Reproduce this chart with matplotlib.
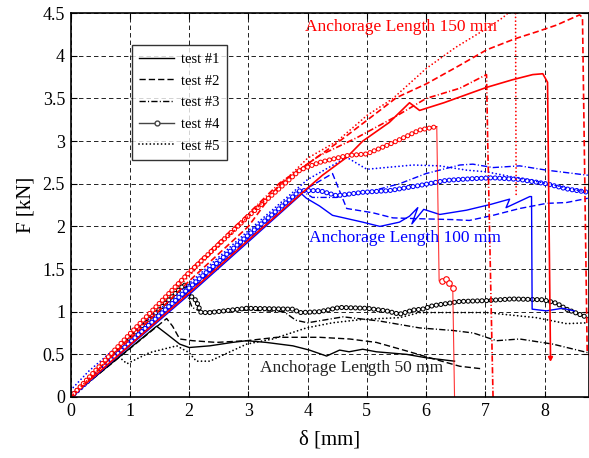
import matplotlib
matplotlib.use("Agg")
import matplotlib.pyplot as plt
from matplotlib.lines import Line2D

# ---- anchorage length 50 mm (black) ----
k1_x = [0, 1.45, 1.62, 1.84, 2.0, 2.35, 2.73, 2.97, 3.3, 3.75, 4.03, 4.32, 4.54, 4.7, 4.93, 5.16, 5.67, 6.0, 6.48]
k1_y = [0, 0.83, 0.74, 0.62, 0.58, 0.6, 0.64, 0.66, 0.64, 0.6, 0.55, 0.48, 0.55, 0.53, 0.56, 0.53, 0.5, 0.46, 0.42]
k2_x = [0, 1.62, 1.72, 1.84, 2.06, 2.46, 2.97, 3.48, 3.87, 4.2, 4.71, 5.16, 5.67, 6.11, 6.57, 6.95]
k2_y = [0, 0.92, 0.83, 0.68, 0.66, 0.64, 0.66, 0.7, 0.7, 0.7, 0.68, 0.64, 0.54, 0.45, 0.36, 0.33]
k3_x = [0, 1.95, 2.05, 2.2, 3.0, 3.6, 3.8, 4.0, 4.6, 5.22, 5.89, 6.45, 6.8, 7.19, 7.58, 8.14, 8.73]
k3_y = [0, 1.23, 1.05, 1.0, 1.02, 1.0, 0.9, 0.87, 0.94, 0.89, 0.81, 0.78, 0.75, 0.66, 0.68, 0.62, 0.52]
k4_x = [0, 1.0, 1.5, 1.92, 2.0, 2.12, 2.2, 2.35, 2.97, 3.75, 3.87, 4.2, 4.54, 5.0, 5.33, 5.55, 5.78,
        5.94, 6.11, 6.57, 7.02, 7.46, 7.97, 8.2, 8.37, 8.73]
k4_y = [0, 0.7, 1.03, 1.32, 1.2, 1.13, 0.99, 0.99, 1.04, 1.03, 0.99, 1.0, 1.05, 1.04, 1.01, 0.97, 1.02,
        1.03, 1.07, 1.12, 1.13, 1.15, 1.14, 1.1, 1.03, 0.93]
k5_x = [0, 0.8, 0.95, 1.33, 1.79, 2.0, 2.12, 2.35, 2.97, 3.41, 3.98, 4.42, 4.93, 5.55, 5.89, 7.02, 7.86, 8.37, 8.73]
k5_y = [0, 0.48, 0.39, 0.52, 0.6, 0.52, 0.42, 0.42, 0.62, 0.68, 0.81, 0.87, 0.91, 0.93, 0.99, 0.99, 0.93, 0.86, 0.87]

# ---- anchorage length 100 mm (blue) ----
b1_x = [0, 1, 2, 3, 3.9, 3.98, 4.2, 4.42, 4.93, 5.22, 5.55, 5.72, 5.86, 5.76, 5.96, 6.23, 6.68, 7.1,
        7.41, 7.35, 7.75, 7.78, 7.79, 8.03, 8.3, 8.5]
b1_y = [0, 0.6, 1.2, 1.82, 2.38, 2.33, 2.24, 2.13, 2.05, 2.0, 2.05, 2.12, 2.22, 2.03, 2.2, 2.14, 2.19, 2.26,
        2.32, 2.22, 2.35, 2.35, 1.03, 1.01, 1.04, 1.01]
b2_x = [0, 1, 2, 3, 4, 4.42, 4.66, 5.1, 5.44, 5.89, 6.45, 6.73, 7.13, 7.58, 8.03, 8.37, 8.73]
b2_y = [0, 0.62, 1.24, 1.85, 2.45, 2.62, 2.21, 2.16, 2.1, 2.09, 2.08, 2.07, 2.13, 2.21, 2.27, 2.28, 2.33]
b3_x = [0, 1, 2, 3, 3.9, 4.08, 4.49, 5.0, 5.55, 6.0, 6.57, 6.79, 7.13, 7.58, 8.03, 8.73]
b3_y = [0, 0.62, 1.25, 1.87, 2.42, 2.34, 2.34, 2.4, 2.5, 2.62, 2.72, 2.73, 2.69, 2.71, 2.66, 2.6]
b4_x = [0, 1, 2, 3, 3.87, 4.2, 4.49, 4.93, 5.38, 5.89, 6.34, 6.79, 7.13, 7.58, 8.03, 8.37, 8.73]
b4_y = [0, 0.64, 1.28, 1.9, 2.42, 2.42, 2.36, 2.4, 2.42, 2.48, 2.54, 2.56, 2.57, 2.55, 2.5, 2.44, 2.4]
b5_x = [0, 0.3, 1, 2, 3, 4, 4.66, 5.0, 5.78, 6.23, 6.68, 7.02, 7.46, 7.92, 8.59, 8.73]
b5_y = [0.08, 0.3, 0.72, 1.33, 1.95, 2.55, 2.81, 2.67, 2.72, 2.71, 2.66, 2.64, 2.58, 2.52, 2.42, 2.4]

# ---- anchorage length 150 mm (red) ----
r1_x = [0, 1, 2, 3, 4.0, 4.25, 4.66, 4.93, 5.38, 5.72, 5.89, 6.3, 7.02, 7.46, 7.8, 7.97, 8.05, 8.1]
r1_y = [0, 0.61, 1.22, 1.84, 2.45, 2.6, 2.81, 3.0, 3.22, 3.45, 3.36, 3.45, 3.63, 3.72, 3.78, 3.79, 3.69, 0.46]
r2_x = [0, 1, 2, 3, 3.53, 4.54, 5.05, 5.5, 6.0, 6.57, 7.02, 7.5, 7.86, 8.2, 8.59, 8.64, 8.72]
r2_y = [0, 0.68, 1.36, 2.0, 2.5, 3.0, 3.27, 3.51, 3.67, 3.89, 4.07, 4.2, 4.28, 4.36, 4.48, 4.45, 0.5]
r3_x = [0, 1, 2, 3, 3.53, 4.2, 4.83, 5.44, 6.0, 6.57, 7.02, 7.04, 7.13]
r3_y = [0, 0.74, 1.48, 2.15, 2.51, 2.83, 3.04, 3.27, 3.5, 3.62, 3.78, 3.0, 0.0]
r4_x = [0, 1, 2, 3, 3.87, 4.2, 4.66, 5.0, 5.44, 5.89, 6.18, 6.22, 6.26, 6.33, 6.39, 6.45, 6.48]
r4_y = [0, 0.74, 1.46, 2.12, 2.66, 2.75, 2.83, 2.85, 2.98, 3.13, 3.17, 1.36, 1.36, 1.38, 1.34, 1.28, 0.0]
r4_ring_end = 11   # circles are drawn along the first segment only
r4_tail = slice(12, 16)
r5_x = [0, 1, 2, 3, 4, 4.5, 5.0, 5.44, 6.0, 6.5, 7.02, 7.3, 7.46, 7.51, 7.52]
r5_y = [0, 0.7, 1.42, 2.12, 2.8, 3.0, 3.3, 3.5, 3.85, 4.1, 4.32, 4.45, 4.55, 4.55, 2.36]

legend_labels = ["test #1", "test #2", "test #3", "test #4", "test #5"]

plt.rcParams["font.family"] = ["Liberation Serif", "DejaVu Serif"]
plt.rcParams["lines.scale_dashes"] = False

DASH = (0, (4.5, 2.2))
DASHDOT = (0, (4.5, 1.6, 0.8, 1.6))
DOT = (0, (0.01, 2.7))
RING = (0, (0.01, 3.3))
LW = 1.0


def ring_line(ax, x, y, color):
    # thin trace plus a dense chain of open circles along it
    ax.plot(x, y, color=color, lw=0.8)
    ax.plot(x, y, color=color, lw=3.7, ls=RING, dash_capstyle="round")
    ax.plot(x, y, color="white", lw=2.2, ls=RING, dash_capstyle="round")


def draw_group(ax, series, color):
    (x1, y1), (x2, y2), (x3, y3), (x4, y4), (x5, y5) = series
    ax.plot(x1, y1, color=color, lw=LW)
    ax.plot(x2, y2, color=color, lw=LW, ls=DASH)
    ax.plot(x3, y3, color=color, lw=LW, ls=DASHDOT)
    ring_line(ax, x4, y4, color)
    ax.plot(x5, y5, color=color, lw=1.3, ls=DOT, dash_capstyle="round")


fig = plt.figure(figsize=(5.89, 4.58), dpi=100)
ax = fig.add_axes([0.12, 0.1332, 0.88, 0.838])

draw_group(ax, [(k1_x, k1_y), (k2_x, k2_y), (k3_x, k3_y), (k4_x, k4_y), (k5_x, k5_y)], "black")
draw_group(ax, [(b1_x, b1_y), (b2_x, b2_y), (b3_x, b3_y), (b4_x, b4_y), (b5_x, b5_y)], "blue")

red = "red"
ax.plot(r1_x, r1_y, color=red, lw=1.2)
ax.plot(r1_x[-1], r1_y[-1], marker="v", color=red, ms=3)
ax.plot(r2_x, r2_y, color=red, lw=1.2, ls=DASH)
ax.plot(r3_x, r3_y, color=red, lw=1.2, ls=DASHDOT)
ax.plot(r4_x, r4_y, color=red, lw=0.8, alpha=0.8)
ring_line(ax, r4_x[:r4_ring_end], r4_y[:r4_ring_end], red)
ax.plot(r4_x[r4_tail], r4_y[r4_tail], ls="none", marker="o", ms=4, mfc="white", mec=red, mew=0.8)
ax.plot(r5_x, r5_y, color=red, lw=1.3, ls=DOT, dash_capstyle="round")

ax.text(3.95, 4.34, "Anchorage Length 150 mm", color="red", fontsize=12.5, va="center")
ax.text(4.03, 1.86, "Anchorage Length 100 mm", color="blue", fontsize=12.5, va="center")
ax.text(3.19, 0.34, "Anchorage Length 50 mm", color="#222222", fontsize=12.5, va="center")

ax.set_xlim(0, 8.75)
ax.set_ylim(0, 4.5)
ax.set_xticks(range(0, 9))
ax.set_yticks([0, 0.5, 1, 1.5, 2, 2.5, 3, 3.5, 4, 4.5])
ax.set_yticklabels(["0", "0.5", "1", "1.5", "2", "2.5", "3", "3.5", "4", "4.5"])
ax.tick_params(direction="in", length=4, labelsize=13, top=True, right=True, pad=4)
ax.grid(True, color="#222222", lw=0.7, ls=(0, (3.2, 2.2)))
ax.set_axisbelow(True)
for s in ax.spines.values():
    s.set_linewidth(1.2)

ax.set_xlabel("δ [mm]", fontsize=15, labelpad=8)
ax.set_ylabel("F [kN]", fontsize=15, labelpad=5)

handles = [
    Line2D([], [], color="black", lw=LW),
    Line2D([], [], color="black", lw=LW, ls=DASH),
    Line2D([], [], color="black", lw=LW, ls=DASHDOT),
    Line2D([], [], color="#444444", lw=LW, marker="o", ms=3.5, mfc="white", markevery=[1]),
    Line2D([], [], color="black", lw=1.3, ls=DOT, dash_capstyle="round"),
]
leg = ax.legend(handles, legend_labels, loc="upper left", bbox_to_anchor=(0.118, 0.916),
                fontsize=10.5, frameon=True, fancybox=False, handlelength=2.4,
                labelspacing=0.58, borderpad=0.5, handletextpad=0.5, borderaxespad=0)
leg.get_frame().set_edgecolor("black")
leg.get_frame().set_linewidth(1.0)

fig.savefig("out.png", dpi=100)
